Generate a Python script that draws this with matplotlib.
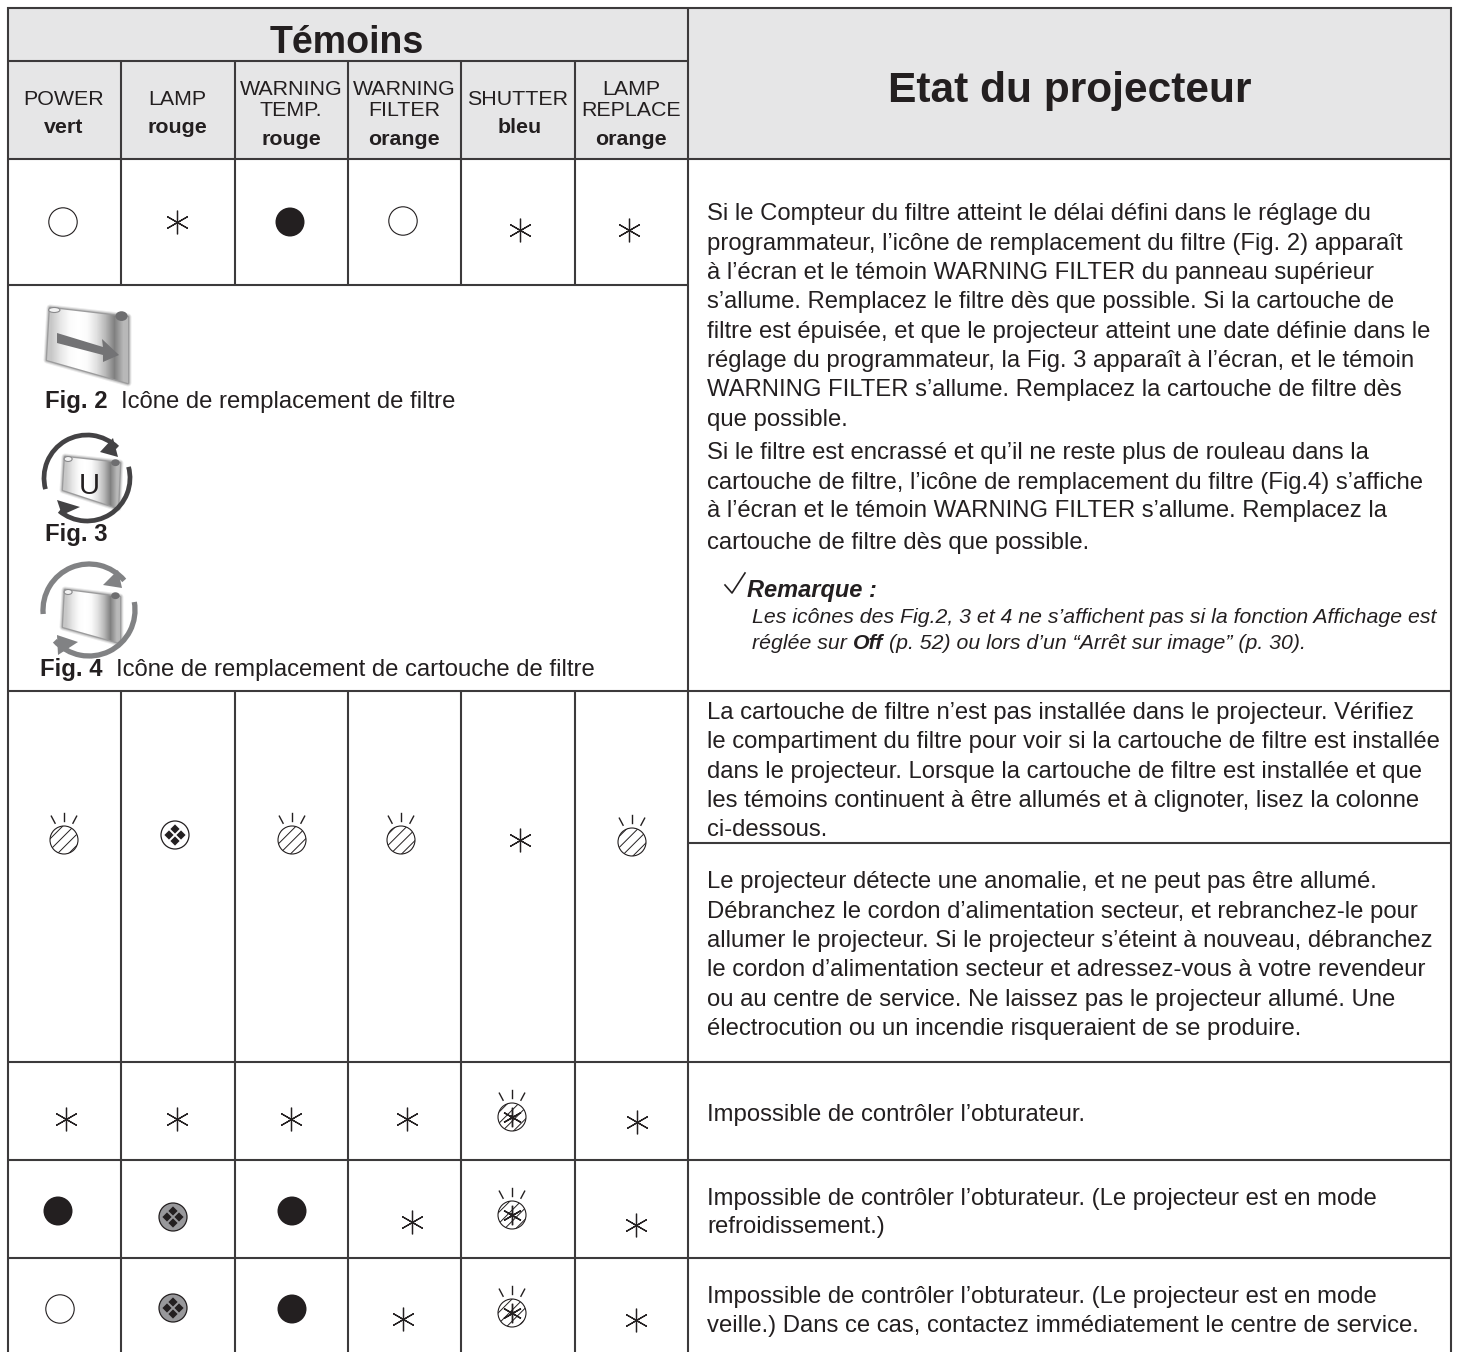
import matplotlib
matplotlib.use('Agg')
import matplotlib.pyplot as plt
from matplotlib.patches import Circle, Ellipse, Polygon, Rectangle, Arc, RegularPolygon
import numpy as np

plt.rcParams['font.family'] = ['Liberation Sans', 'DejaVu Sans']
plt.rcParams['hatch.linewidth'] = 0.7
plt.rcParams['hatch.color'] = '#231f20'
INK = '#231f20'
GRID = '#3c3a3b'
BODY = 17.2

# contents of the table
title_left = 'Témoins'
title_right = 'Etat du projecteur'
lamp_names = [['POWER'], ['LAMP'], ['WARNING', 'TEMP.'], ['WARNING', 'FILTER'], ['SHUTTER'], ['LAMP', 'REPLACE']]
lamp_colors = ['vert', 'rouge', 'rouge', 'orange', 'bleu', 'orange']

state_row1 = ['off', 'star', 'on', 'off', 'star', 'star']
state_row2 = ['blink', 'lamp', 'blink', 'blink', 'star', 'blink']
state_row3 = ['star', 'star', 'star', 'star', 'shut', 'star']
state_row4 = ['on', 'lampg', 'on', 'star', 'shut', 'star']
state_row5 = ['off', 'lampg', 'on', 'star', 'shut', 'star']

text_row1 = ['Si le Compteur du filtre atteint le délai défini dans le réglage du',
             'programmateur, l’icône de remplacement du filtre (Fig. 2) apparaît',
             'à l’écran et le témoin WARNING FILTER du panneau supérieur',
             's’allume. Remplacez le filtre dès que possible. Si la cartouche de',
             'filtre est épuisée, et que le projecteur atteint une date définie dans le',
             'réglage du programmateur, la Fig. 3 apparaît à l’écran, et le témoin',
             'WARNING FILTER s’allume. Remplacez la cartouche de filtre dès',
             'que possible.',
             'Si le filtre est encrassé et qu’il ne reste plus de rouleau dans la',
             'cartouche de filtre, l’icône de remplacement du filtre (Fig.4) s’affiche',
             'à l’écran et le témoin WARNING FILTER s’allume. Remplacez la',
             'cartouche de filtre dès que possible.']
text_row2a = ['La cartouche de filtre n’est pas installée dans le projecteur. Vérifiez',
              'le compartiment du filtre pour voir si la cartouche de filtre est installée',
              'dans le projecteur. Lorsque la cartouche de filtre est installée et que',
              'les témoins continuent à être allumés et à clignoter, lisez la colonne',
              'ci-dessous.']
text_row2b = ['Le projecteur détecte une anomalie, et ne peut pas être allumé.',
              'Débranchez le cordon d’alimentation secteur, et rebranchez-le pour',
              'allumer le projecteur. Si le projecteur s’éteint à nouveau, débranchez',
              'le cordon d’alimentation secteur et adressez-vous à votre revendeur',
              'ou au centre de service. Ne laissez pas le projecteur allumé. Une',
              'électrocution ou un incendie risqueraient de se produire.']
text_row3 = ['Impossible de contrôler l’obturateur.']
text_row4 = ['Impossible de contrôler l’obturateur. (Le projecteur est en mode',
             'refroidissement.)']
text_row5 = ['Impossible de contrôler l’obturateur. (Le projecteur est en mode',
             'veille.) Dans ce cas, contactez immédiatement le centre de service.']

# layout, in pixels of the page
col_x = [8, 121, 235, 348, 461, 575, 688, 1451]
row_y = [8, 61, 159, 285, 691, 1062, 1160, 1258, 1352]

fig = plt.figure(figsize=(14.59, 13.52), dpi=100)
ax = fig.add_axes([0, 0, 1, 1])
ax.set_xlim(0, 1459)
ax.set_ylim(1352, 0)
ax.axis('off')

ax.add_patch(Rectangle((8, 8), 1443, 151, fc='#e6e6e7', ec='none', zorder=0))


def hline(y, x0, x1, lw=1.5):
    ax.plot([x0, x1], [y, y], color=GRID, lw=lw, solid_capstyle='butt', zorder=1)


def vline(x, y0, y1, lw=1.5):
    ax.plot([x, x], [y0, y1], color=GRID, lw=lw, solid_capstyle='butt', zorder=1)


hline(8, 7, 1452)
hline(61, 8, 688)
hline(159, 8, 1451)
hline(285, 8, 688)
hline(691, 8, 1451)
hline(843, 688, 1451)
for y in row_y[5:8]:
    hline(y, 8, 1451)
vline(8, 7, 1352)
vline(688, 8, 1352)
vline(1451, 7, 1352)
for x in col_x[1:6]:
    vline(x, 61, 285)
    vline(x, 691, 1352)


def put(x, y, s, size=BODY, **kw):
    ax.text(x, y, s, fontsize=size, color=INK, va='baseline', ha=kw.pop('ha', 'left'), **kw)


put(347, 53, title_left, 27, ha='center', weight='bold')
put(1070, 102, title_right, 30.6, ha='center', weight='bold')

head_cx = [64, 177, 291, 404, 518, 631]
head_bold_cx = [64, 177, 291, 404, 520, 631]
head_y1 = [[105], [105], [95, 116], [95, 116], [105], [95, 116]]
head_y2 = [133, 133, 145, 145, 133, 145]
for cx, bx, names, ys, c, y2 in zip(head_cx, head_bold_cx, lamp_names, head_y1, lamp_colors, head_y2):
    for n, y in zip(names, ys):
        put(cx, y, n, 15.4, ha='center')
    put(bx, y2, c, 15.4, ha='center', weight='bold')


def star(x, y):
    ax.plot([x], [y], marker=(6, 2, 0), ms=17, mew=0.9, color=INK, zorder=3)


def rays(x, y):
    for a in (-28, 0, 28):
        t = np.radians(a)
        ax.plot([x + 19 * np.sin(t), x + 27 * np.sin(t)], [y - 19 * np.cos(t), y - 27 * np.cos(t)],
                color=INK, lw=1.0, zorder=3)


def diamonds(x, y):
    for dx, dy in ((0, -6), (0, 6), (-6, 0), (6, 0)):
        ax.add_patch(RegularPolygon((x + dx, y + dy), 4, radius=4.6, fc=INK, ec='none', zorder=4))


def symbol(kind, x, y):
    if kind == 'star':
        star(x, y)
    elif kind == 'on':
        ax.add_patch(Circle((x, y), 14.5, fc=INK, ec='none', zorder=3))
    elif kind == 'off':
        ax.add_patch(Circle((x, y), 14.2, fc='white', ec=INK, lw=0.8, zorder=3))
    elif kind == 'blink':
        ax.add_patch(Circle((x, y), 14, fc='white', ec=INK, lw=0.8, hatch='///', zorder=3))
        rays(x, y)
    elif kind == 'lamp':
        ax.add_patch(Circle((x, y), 14, fc='white', ec=INK, lw=0.9, zorder=3))
        diamonds(x, y)
    elif kind == 'lampg':
        ax.add_patch(Circle((x, y), 14, fc='#98989b', ec=INK, lw=0.9, zorder=3))
        diamonds(x, y)
    elif kind == 'shut':
        ax.add_patch(Circle((x, y), 14, fc='white', ec=INK, lw=0.8, hatch='///', zorder=3))
        ax.plot([x], [y], marker=(6, 2, 0), ms=14, mew=1.0, color=INK, zorder=4)
        ax.add_patch(Circle((x, y), 2, fc=INK, ec='none', zorder=4))
        rays(x, y)


rows = [(state_row1, [63, 177, 290, 403, 520, 629], [222, 222, 222, 221, 230, 230]),
        (state_row2, [64, 175, 292, 401, 520, 632], [840, 835, 840, 840, 840, 842]),
        (state_row3, [66, 177, 291, 407, 512, 637], [1119, 1119, 1119, 1119, 1117, 1122]),
        (state_row4, [58, 173, 292, 412, 512, 636], [1211, 1217, 1211, 1222, 1215, 1225]),
        (state_row5, [60, 173, 292, 403, 512, 636], [1309, 1308, 1309, 1319, 1313, 1320])]
for states, xs, ys in rows:
    for kind, x, y in zip(states, xs, ys):
        symbol(kind, x, y)


def text_block(lines, ys):
    for s, y in zip(lines, ys):
        put(707, y, s)


text_block(text_row1, [220, 250, 279, 308, 338, 367, 396, 426, 459, 489, 517, 549])
text_block(text_row2a, [719, 748, 778, 807, 836])
text_block(text_row2b, [888, 918, 947, 976, 1006, 1035])
text_block(text_row3, [1121])
text_block(text_row4, [1205, 1233])
text_block(text_row5, [1303, 1332])

# remark
ax.plot([725, 732, 745], [585, 593, 573], color=INK, lw=1.2, zorder=3)
put(747, 597, 'Remarque :', 17, weight='bold', style='italic')
put(752, 623, 'Les icônes des Fig.2, 3 et 4 ne s’affichent pas si la fonction Affichage est', 15.3, style='italic')
put(752, 649, 'réglée sur', 15.3, style='italic')
put(853, 649, 'Off', 15.3, style='italic', weight='bold')
put(889, 649, '(p. 52) ou lors d’un “Arrêt sur image” (p. 30).', 15.3, style='italic')

# captions
put(45, 408, 'Fig. 2', weight='bold')
put(121, 408, 'Icône de remplacement de filtre')
put(45, 541, 'Fig. 3', weight='bold')
put(40, 676, 'Fig. 4', weight='bold')
put(116, 676, 'Icône de remplacement de cartouche de filtre')


def scroll(pts, zorder=3):
    # gradient scroll sheet clipped to its outline, soft edge under it
    pts = np.array(pts)
    x0, x1 = pts[:, 0].min(), pts[:, 0].max()
    y0, y1 = pts[:, 1].min(), pts[:, 1].max()
    for w, a in ((5, 0.12), (3.5, 0.2), (2, 0.4)):
        ax.add_patch(Polygon(pts, closed=True, fc='none', ec='#555557', lw=w, alpha=a,
                             joinstyle='round', zorder=zorder))
    g = np.array([[0.78, 0.9, 0.98, 1.0, 0.98, 0.88, 0.72, 0.5, 0.72]])
    im = ax.imshow(g, extent=(x0, x1, y1, y0), cmap='gray', vmin=0, vmax=1, aspect='auto',
                   interpolation='bilinear', zorder=zorder + 1)
    im.set_clip_path(Polygon(pts, closed=True, transform=ax.transData))
    w = x1 - x0
    ax.add_patch(Ellipse((x0 + w * 0.09, y0 + 2), w * 0.14, 5, fc='#f2f2f2', ec='#8a8a8c', lw=0.8, zorder=zorder + 2))
    ax.add_patch(Ellipse((x1 - w * 0.08, y0 + w * 0.1), w * 0.15, w * 0.12, fc='#6e6e70', ec='none', zorder=zorder + 2))


def ring(cx, cy, r, spans, col, lw):
    for start, end in spans:
        ax.add_patch(Arc((cx, cy), 2 * r, 2 * r, theta1=start, theta2=end, color=col, lw=lw, zorder=5))


def head(pts, col):
    ax.add_patch(Polygon(pts, closed=True, fc=col, ec='none', zorder=5))


# Fig. 2
scroll([(50, 308), (128, 317), (128, 383), (47, 360)])
ax.add_patch(Polygon([(57, 333), (103, 347), (102, 339), (119, 355), (103, 362), (103, 355), (57, 343)],
                     closed=True, fc='#737375', ec='none', zorder=6))

# Fig. 3
scroll([(65, 457), (120, 463), (118, 508), (63, 490)])
ring(87, 478, 43, [(165, 315), (345, 130)], '#434244', 3.4)
head([(113, 438), (118, 457), (100, 452)], '#434244')
head([(57, 500), (80, 507), (62, 515)], '#434244')
ax.text(89, 494, 'U', fontsize=21, color=INK, ha='center', va='baseline', zorder=6)

# Fig. 4
scroll([(65, 590), (120, 597), (120, 643), (63, 627)])
ring(89, 610, 46, [(175, 320), (350, 138)], '#818284', 3.8)
head([(118, 570), (122, 588), (103, 585)], '#818284')
head([(57, 635), (78, 642), (58, 655)], '#818284')

fig.savefig('out.png', dpi=100)
